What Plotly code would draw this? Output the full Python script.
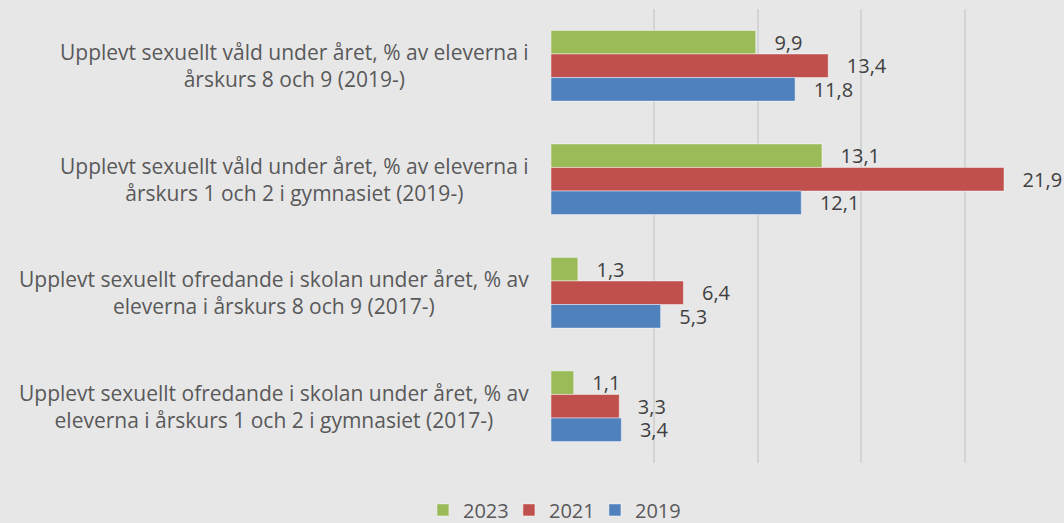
import plotly.graph_objects as go

categories = [
    "Upplevt sexuellt våld under året, % av eleverna i<br>årskurs 8 och 9 (2019-)",
    "Upplevt sexuellt våld under året, % av eleverna i<br>årskurs 1 och 2 i gymnasiet (2019-)",
    "Upplevt sexuellt ofredande i skolan under året, % av<br>eleverna i årskurs 8 och 9 (2017-)",
    "Upplevt sexuellt ofredande i skolan under året, % av<br>eleverna i årskurs 1 och 2 i gymnasiet (2017-)",
]
years = ["2023", "2021", "2019"]
values_2023 = [9.9, 13.1, 1.3, 1.1]
values_2021 = [13.4, 21.9, 6.4, 3.3]
values_2019 = [11.8, 12.1, 5.3, 3.4]
colors = ["#9BBB59", "#C0504D", "#4F81BD"]

series = [values_2023, values_2021, values_2019]
cat_idx = list(range(len(categories)))

fig = go.Figure()
for name, vals, col in zip(years, series, colors):
    fig.add_trace(go.Bar(
        y=cat_idx, x=vals, name=name, orientation="h",
        marker=dict(color=col, line=dict(color="rgba(255,255,255,0.45)", width=1)),
        texttemplate="\u00a0\u00a0\u00a0%{x:.1f}", textposition="outside",
        textfont=dict(family="Open Sans", size=20, color="#404040"),
        constraintext="none", cliponaxis=False,
    ))

for i, c in enumerate(categories):
    fig.add_annotation(
        x=0, xref="paper", y=i, yref="y", text=c, showarrow=False,
        xanchor="right", yanchor="middle", align="center", xshift=-20,
        font=dict(family="Open Sans", size=21, color="#595959"),
    )

bg = "#E7E7E8"
fig.update_layout(
    width=1064, height=523,
    paper_bgcolor=bg, plot_bgcolor=bg,
    margin=dict(l=551, r=0, t=9, b=60),
    barmode="group", bargap=0.377, bargroupgap=0,
    separators=", ",
    showlegend=True,
    legend=dict(
        orientation="h", xref="container", yref="container",
        x=0.3975, xanchor="left", y=0.025, yanchor="middle",
        entrywidth=41, entrywidthmode="pixels",
        font=dict(family="Open Sans", size=20, color="#595959"),
        bgcolor="rgba(0,0,0,0)", traceorder="normal",
    ),
    xaxis=dict(range=[0, 24.8], dtick=5, showgrid=True, gridcolor="#D4D4D4",
               gridwidth=2, zeroline=False, showticklabels=False, showline=False),
    yaxis=dict(autorange="reversed", showticklabels=False, showgrid=False,
               zeroline=False, showline=False),
)
fig.write_html(
    "out.html",
    config={"displayModeBar": False},
    post_script="document.body.style.margin='0';document.body.style.overflow='hidden';",
)
